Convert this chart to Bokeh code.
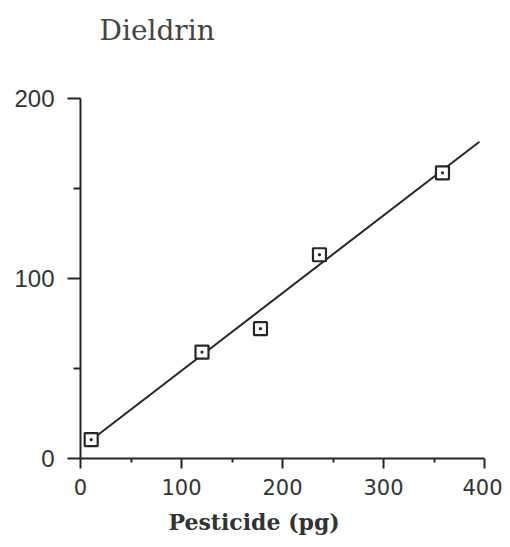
from bokeh.plotting import figure
from bokeh.models import Range1d, FixedTicker, Title, ColumnDataSource
from bokeh.embed import file_html
from bokeh.resources import INLINE

# data
pesticide_pg = [10.6, 120.3, 178.2, 236.6, 358.4]
response = [10.5, 59.1, 72.1, 113.2, 158.7]
fit_x = [10, 395]
fit_y = [10, 176]

x_major = [0, 100, 200, 300, 400]
x_minor = [50, 150, 250, 350]
y_major = [0, 100, 200]
y_minor = [50, 150]

INK = "#262626"

p = figure(width=502, height=543, output_backend="svg", toolbar_location=None,
           x_range=Range1d(0, 400), y_range=Range1d(0, 200),
           title_location=None,
           min_border_left=80, min_border_right=18, min_border_top=98,
           min_border_bottom=84)
p.outline_line_color = None
p.xgrid.visible = False
p.ygrid.visible = False
p.background_fill_color = "white"
p.border_fill_color = "white"

# spacer between frame and title (nearest the frame)
spacer = Title(text=" ", text_font_size="10px", standoff=39)
p.add_layout(spacer, "above")
title = Title(text="Dieldrin", align="left", offset=19,
              text_font="DejaVu Serif", text_font_style="normal",
              text_font_size="28px", text_color="#444444", standoff=0)
p.add_layout(title, "above")

p.xaxis.ticker = FixedTicker(ticks=x_major, minor_ticks=x_minor)
p.yaxis.ticker = FixedTicker(ticks=y_major, minor_ticks=y_minor)

for ax in (p.xaxis[0], p.yaxis[0]):
    ax.axis_line_color = INK
    ax.axis_line_width = 2
    ax.major_tick_line_color = INK
    ax.minor_tick_line_color = INK
    ax.major_tick_line_width = 2
    ax.minor_tick_line_width = 2
    ax.major_tick_in = 0
    ax.minor_tick_in = 0
    ax.major_label_text_color = "#333333"

p.xaxis.major_tick_out = 10
p.xaxis.minor_tick_out = 4
p.xaxis.major_label_text_font = "DejaVu Sans"
p.xaxis.major_label_text_font_size = "21px"
p.xaxis.major_label_standoff = 10

p.yaxis.major_tick_out = 13
p.yaxis.minor_tick_out = 7
p.yaxis.major_label_text_font = "Liberation Sans"
p.yaxis.major_label_text_font_size = "24px"
p.yaxis.major_label_standoff = 13

xlab = Title(text="Pesticide (pg)", align="left", offset=88,
             text_font="DejaVu Serif", text_font_style="bold",
             text_font_size="22px", text_color="#333333", standoff=18)
p.add_layout(xlab, "below")

p.line(fit_x, fit_y, line_color=INK, line_width=2)
src = ColumnDataSource(dict(x=pesticide_pg, y=response))
p.scatter("x", "y", source=src, marker="square_dot", size=13,
          fill_color="white", line_color=INK, line_width=2.2)

open("out.html", "w").write(file_html(p, INLINE))
